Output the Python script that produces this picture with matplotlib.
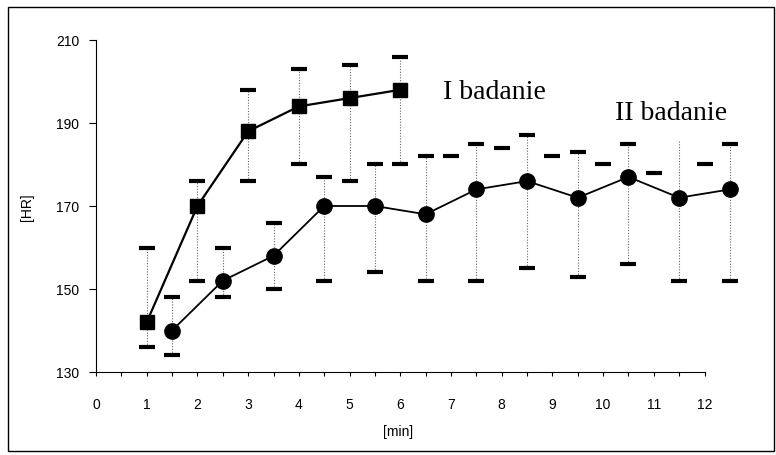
import numpy as np
import matplotlib
matplotlib.use('Agg')
import matplotlib.pyplot as plt
from matplotlib.patches import Rectangle
from matplotlib.ticker import FixedLocator

# I badanie (squares)
x1 = [1, 2, 3, 4, 5, 6]
y1 = [142, 170, 188, 194, 196, 198]
lo1 = [136, 152, 176, 180, 176, 180]
hi1 = [160, 176, 198, 203, 204, 206]

# II badanie (circles)
x2 = [1.5, 2.5, 3.5, 4.5, 5.5, 6.5, 7.5, 8.5, 9.5, 10.5, 11.5, 12.5]
y2 = [140, 152, 158, 170, 170, 168, 174, 176, 172, 177, 172, 174]
lo2 = [134, 148, 150, 152, 154, 152, 152, 155, 153, 156, 152, 152]
hi2 = [148, 160, 166, 177, 180, 182, 185, 187, 183, 185, 186, 185]
cap_hi2 = [148, 160, 166, 177, 180, 182, 185, 187, 183, 185, np.nan, 185]

# loose dashes at whole minutes
x3 = [7, 8, 9, 10, 11, 12]
y3 = [182, 184, 182, 180, 178, 180]

xticks = list(range(13))
yticks = [130, 150, 170, 190, 210]

plt.rcParams['font.family'] = ['Liberation Sans', 'DejaVu Sans']

fig = plt.figure(figsize=(7.76, 4.56), dpi=100)
ax = fig.add_axes([96 / 776, 1 - 373 / 456, 639 / 776, 332 / 456])

cap = dict(linestyle='none', marker='_', markersize=11, markeredgewidth=3,
           color='black', clip_on=False, zorder=3)

# dotted error lines
ax.vlines(x1, lo1, hi1, colors='#666666', linestyles=(0, (1, 1.5)), linewidth=0.8, zorder=1)
ax.vlines(x2, lo2, hi2, colors='#666666', linestyles=(0, (1, 1.5)), linewidth=0.8, zorder=1)

ax.plot(x1, lo1, **cap)
ax.plot(x1, hi1, **cap)
ax.plot(x2, lo2, **cap)
ax.plot(x2, cap_hi2, **cap)
ax.plot(x3, y3, **cap)

ax.plot(x1, y1, color='black', linewidth=1.6, marker='s', markersize=10,
        clip_on=False, zorder=4)
ax.plot(x2, y2, color='black', linewidth=1.3, marker='o', markersize=11,
        clip_on=False, zorder=4)

ax.text(6.84, 196, 'I badanie', family=['Liberation Serif', 'DejaVu Serif'],
        fontsize=20, va='baseline')
ax.text(10.24, 191, 'II badanie', family=['Liberation Serif', 'DejaVu Serif'],
        fontsize=20, va='baseline')

ax.set_xlim(0, 12.6)
ax.set_ylim(130, 210)
ax.spines['top'].set_visible(False)
ax.spines['right'].set_visible(False)
ax.spines['bottom'].set_bounds(0, 12)
ax.set_xticks(xticks)
ax.set_xticklabels([str(i) for i in xticks])
ax.xaxis.set_minor_locator(FixedLocator(np.arange(0.5, 12, 1)))
ax.set_yticks(yticks)
ax.tick_params(axis='x', which='both', direction='out', length=3, width=0.8, pad=15, labelsize=10)
ax.tick_params(axis='y', direction='out', length=5, width=0.8, pad=7, labelsize=10)

fig.text(398 / 776, 1 - 432 / 456, '[min]', ha='center', va='center', fontsize=10)
fig.text(27 / 776, 1 - 207 / 456, '[HR]', ha='center', va='center', fontsize=10, rotation=90)

fig.patches.append(Rectangle((8 / 776, 4 / 456), 766 / 776, 444 / 456, transform=fig.transFigure,
                             fill=False, edgecolor='black', linewidth=1))

fig.savefig('out.png', dpi=100)
